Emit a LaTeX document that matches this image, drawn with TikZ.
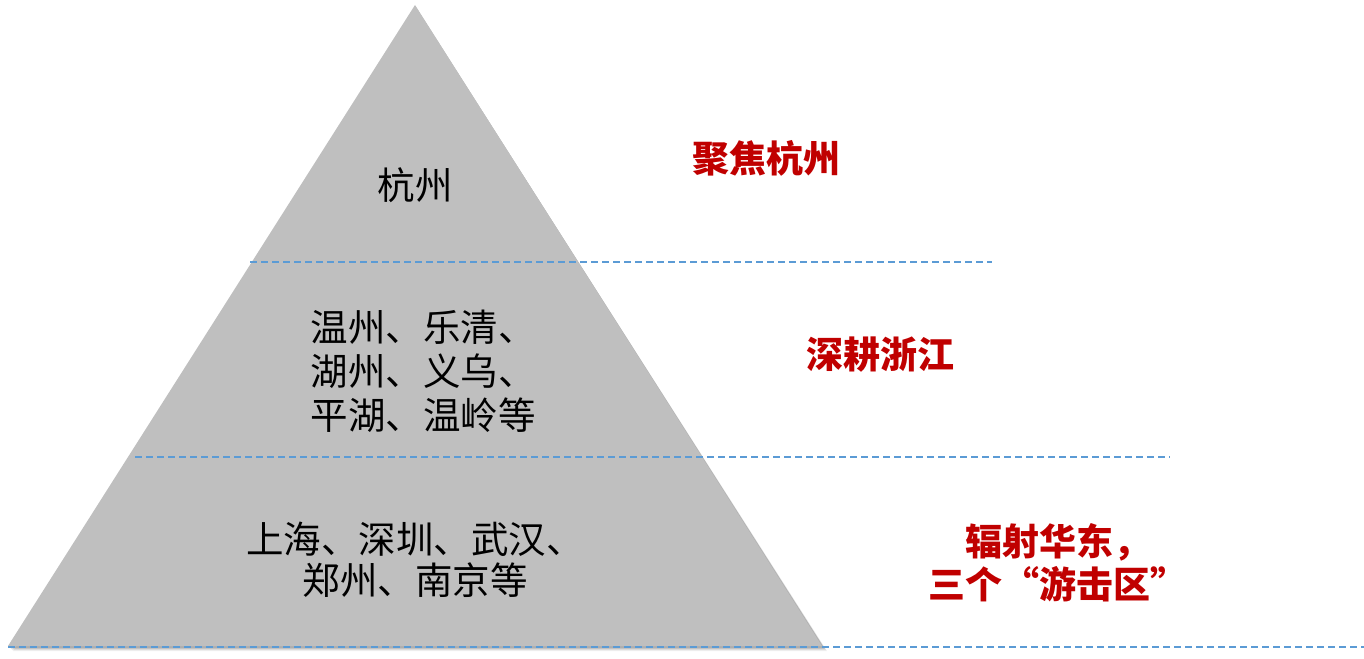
\documentclass[tikz,border=0pt]{standalone}
\usepackage{fontspec}
\setmainfont{Noto Sans CJK SC}
\newfontfamily\cjk{Noto Sans CJK SC}
\definecolor{tri}{HTML}{BFBFBF}
\definecolor{dash}{HTML}{5B9BD5}
\definecolor{redtxt}{HTML}{C00000}
\tikzset{
  blk/.style={font=\cjk\fontsize{37.5}{44}\selectfont, text=black, align=center, inner sep=0pt},
  blkb/.style={font=\cjk\fontsize{37.5}{41}\selectfont, text=black, align=center, inner sep=0pt},
  rtxt/.style={font=\cjk\bfseries\fontsize{37}{43}\selectfont, text=redtxt, align=center, inner sep=0pt},
  sep/.style={draw=dash, line width=2pt, dash pattern=on 7pt off 4pt}
}
\begin{document}
\begin{tikzpicture}[x=1pt,y=-1pt]
\useasboundingbox (0,0) rectangle (1364,658);
% shadow
\foreach \d/\o in {5/0.06,4/0.08,3/0.1,2/0.12}{
  \fill[black,opacity=\o] (8+\d,646+\d) -- (415+\d*0.5,5+\d) -- (822+\d,646+\d) -- cycle;
}
\fill[tri] (8,646) -- (415,5) -- (822,646) -- cycle;
% dashed separators
\coordinate (l1a) at (250,262); \coordinate (l1b) at (992,262);
\coordinate (l2a) at (135,457); \coordinate (l2b) at (1170,457);
\coordinate (l3a) at (8,646.5); \coordinate (l3b) at (1364,646.5);
\draw[sep] (l1a) -- (l1b);
\draw[sep] (l2a) -- (l2b);
\draw[sep] (l3a) -- (l3b);
% texts in pyramid
\node[blk] (t1) at (415,185) {杭州};
\node[blk] (t2) at (423,371) {温州、乐清、\\湖州、义乌、\\平湖、温岭等};
\node[blkb] (t3) at (415,560) {上海、深圳、武汉、\\郑州、南京等};
% red labels
\node[rtxt] (r1) at (766,158) {聚焦杭州};
\node[rtxt] (r2) at (880,355) {深耕浙江};
\node[rtxt] (r3) at (1058,563) {辐射华东，\\三个“游击区”};
\end{tikzpicture}
\end{document}
